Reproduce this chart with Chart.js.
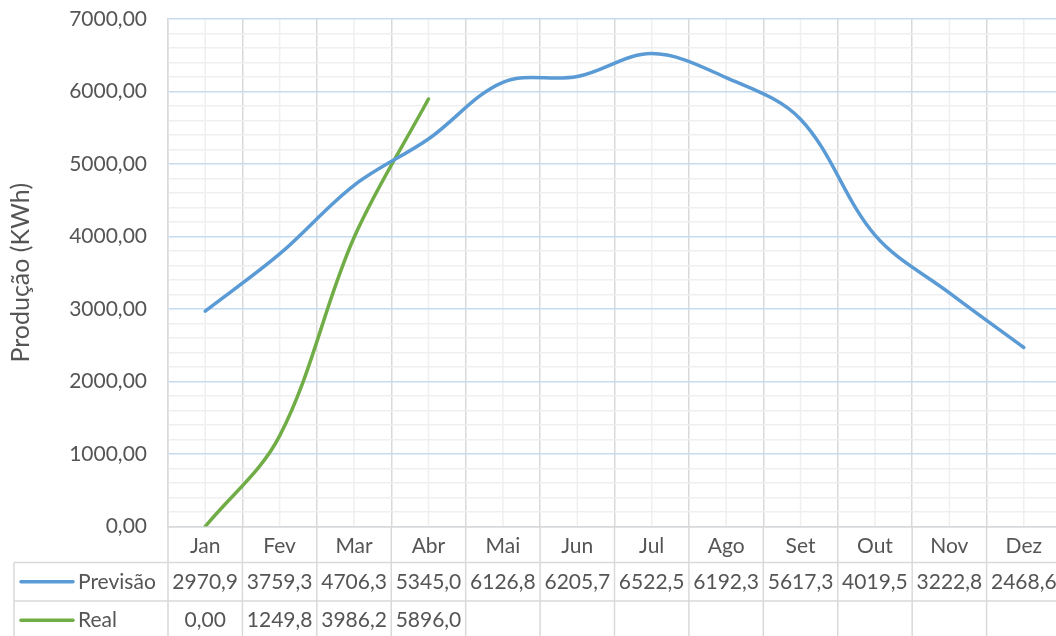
<!DOCTYPE html>
<html>
<head>
<meta charset="utf-8">
<script src="https://cdn.jsdelivr.net/npm/chart.js@4/dist/chart.umd.min.js"></script>
<style>
  html, body { margin: 0; padding: 0; background: #fff; overflow: hidden; }
  #wrap { width: 1062px; height: 636px; }
</style>
</head>
<body>
<div id="wrap"><canvas id="c" width="1062" height="636"></canvas></div>
<script>
// Monthly energy production, forecast vs. measured (kWh)
const months = ['Jan', 'Fev', 'Mar', 'Abr', 'Mai', 'Jun', 'Jul', 'Ago', 'Set', 'Out', 'Nov', 'Dez'];
const previsao = [2970.9, 3759.3, 4706.3, 5345.0, 6126.8, 6205.7, 6522.5, 6192.3, 5617.3, 4019.5, 3222.8, 2468.6];
const real = [0, 1249.8, 3986.2, 5896.0, null, null, null, null, null, null, null, null];
const previsaoDecimals = [1, 1, 1, 1, 1, 1, 1, 1, 1, 1, 1, 1];
const realDecimals = [2, 1, 1, 1];
const yMin = 0;
const yMax = 7000;
const yMajorStep = 1000;
const yMinorStep = 200;
const seriesNames = ['Previsão', 'Real'];
const seriesColors = ['#5B9BD5', '#70AD47'];
const axisTitle = 'Produção (KWh)';

const FONT = 'Lato';
const TEXT = '#555555';
const GRID_MAJOR_V = '#d9d9d9';
const GRID_MINOR = '#efefef';
const GRID_MAJOR_H = '#c8dcf0';

const fmt = (v, d) => v.toFixed(d).replace('.', ',');

// Excel-style data table below the plot, plus minor vertical gridlines
const dataTable = {
  id: 'dataTable',
  beforeDraw(chart) {
    const { ctx, chartArea: a, scales: { x } } = chart;
    ctx.save();
    ctx.strokeStyle = GRID_MINOR;
    ctx.lineWidth = 1.5;
    months.forEach((m, i) => {
      const px = x.getPixelForValue(i);
      ctx.beginPath();
      ctx.moveTo(px, a.top);
      ctx.lineTo(px, a.bottom);
      ctx.stroke();
    });
    ctx.restore();
  },
  afterDraw(chart) {
    const { ctx, scales: { x } } = chart;
    const half = (x.getPixelForValue(1) - x.getPixelForValue(0)) / 2;
    const tableLeft = 14;
    const rowTop = x.bottom;
    const rowH = 38.5;
    const right = chart.width;
    ctx.save();
    ctx.strokeStyle = GRID_MAJOR_V;
    ctx.lineWidth = 1.5;
    // column separators, from the axis line down through the rows
    for (let i = 0; i <= months.length; i++) {
      const px = i === 0 ? x.left : x.getPixelForValue(i - 1) + half;
      ctx.beginPath();
      ctx.moveTo(px, x.top);
      ctx.lineTo(px, rowTop + 2 * rowH + 4);
      ctx.stroke();
    }
    // row separators and left border
    for (let r = 0; r < 2; r++) {
      const py = rowTop + r * rowH;
      ctx.beginPath();
      ctx.moveTo(tableLeft, py);
      ctx.lineTo(right, py);
      ctx.stroke();
    }
    ctx.beginPath();
    ctx.moveTo(tableLeft, rowTop);
    ctx.lineTo(tableLeft, rowTop + 2 * rowH + 4);
    ctx.stroke();

    const rows = [
      { values: previsao, decimals: previsaoDecimals },
      { values: real, decimals: realDecimals }
    ];
    ctx.font = '21px ' + FONT;
    ctx.fillStyle = TEXT;
    ctx.textBaseline = 'middle';
    rows.forEach((row, r) => {
      const cy = rowTop + r * rowH + rowH / 2;
      // legend key
      ctx.strokeStyle = seriesColors[r];
      ctx.lineWidth = 3.5;
      ctx.lineCap = 'round';
      ctx.beginPath();
      ctx.moveTo(21, cy);
      ctx.lineTo(73, cy);
      ctx.stroke();
      ctx.textAlign = 'left';
      ctx.fillText(seriesNames[r], 78, cy);
      ctx.textAlign = 'center';
      row.values.forEach((v, i) => {
        if (v === null || v === undefined) return;
        ctx.fillText(fmt(v, row.decimals[i]), x.getPixelForValue(i), cy);
      });
    });
    ctx.restore();
  }
};

new Chart(document.getElementById('c'), {
  type: 'line',
  data: {
    labels: months,
    datasets: [
      {
        label: seriesNames[0],
        data: previsao,
        borderColor: seriesColors[0],
        borderWidth: 3.5,
        borderCapStyle: 'round',
        pointRadius: 0,
        tension: 0.35,
        fill: false
      },
      {
        label: seriesNames[1],
        data: real,
        borderColor: seriesColors[1],
        borderWidth: 3.5,
        borderCapStyle: 'round',
        pointRadius: 0,
        tension: 0.35,
        spanGaps: false,
        fill: false
      }
    ]
  },
  options: {
    responsive: false,
    animation: false,
    devicePixelRatio: 1,
    layout: { padding: { top: 19, right: 1, bottom: 73.5, left: 0 } },
    plugins: { legend: { display: false }, tooltip: { enabled: false } },
    scales: {
      x: {
        type: 'category',
        offset: true,
        grid: { offset: true, color: GRID_MAJOR_V, lineWidth: 1.5, drawTicks: false },
        border: { color: GRID_MAJOR_V, width: 1.5 },
        ticks: { color: TEXT, font: { family: FONT, size: 21 }, padding: 7, autoSkip: false, maxRotation: 0 },
        afterFit(s) { s.height = 36; }
      },
      y: {
        min: yMin,
        max: yMax,
        grid: {
          drawTicks: false,
          lineWidth: 1.5,
          color: c => (c.tick && c.tick.value % yMajorStep === 0 ? GRID_MAJOR_H : GRID_MINOR)
        },
        border: { color: GRID_MAJOR_V, width: 1.5 },
        ticks: {
          stepSize: yMinorStep,
          maxTicksLimit: 100,
          autoSkip: false,
          padding: 21,
          color: TEXT,
          font: { family: FONT, size: 21 },
          callback: v => (v % yMajorStep === 0 ? fmt(v, 2) : '')
        },
        title: {
          display: true,
          text: axisTitle,
          color: TEXT,
          font: { family: FONT, size: 25 },
          padding: { top: 6, bottom: 0 }
        },
        afterFit(s) {
          s.width = 168;
          s.paddingTop = 0;
          s.paddingBottom = 0;
        }
      }
    }
  },
  plugins: [dataTable]
});
</script>
</body>
</html>
